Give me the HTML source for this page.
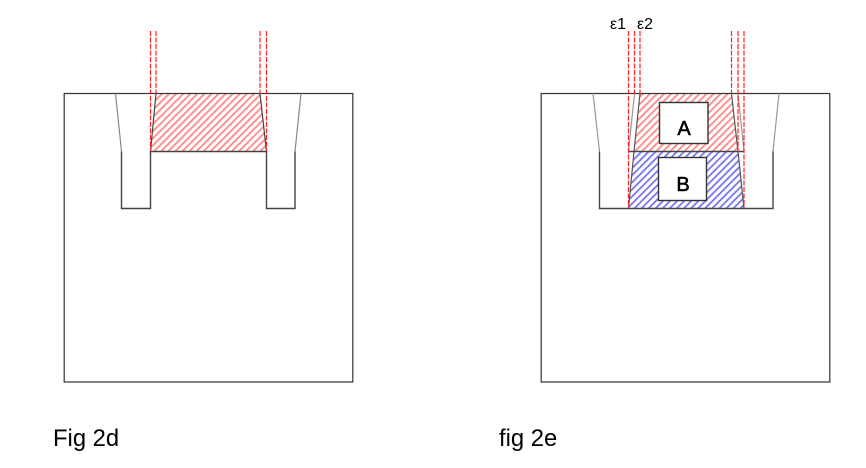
<!DOCTYPE html>
<html><head><meta charset="utf-8"><style>html,body{margin:0;padding:0;background:#fff}svg{display:block}</style></head>
<body>
<svg width="866" height="468" viewBox="0 0 866 468" xmlns="http://www.w3.org/2000/svg">
<defs>
<pattern id="r" width="5" height="5" patternUnits="userSpaceOnUse" patternTransform="rotate(45)"><rect width="5" height="5" fill="#fff"/><rect width="1.8" height="5" fill="#f88"/></pattern>
<pattern id="b" width="5" height="5" patternUnits="userSpaceOnUse" patternTransform="rotate(45)"><rect width="5" height="5" fill="#fff"/><rect width="1.8" height="5" fill="#77e"/></pattern>
</defs>
<g fill="none" stroke="#333" stroke-width="1.2">
<polygon points="156,93.5 260,93.5 266.5,151.5 150.5,151.5" fill="url(#r)" stroke="none"/>
<rect x="64.2" y="93.5" width="288.6" height="288.5"/>
<path d="M121.5 151.5V208.5H150.5V151.5H266.5V208.5H295V151.5" stroke="#444" stroke-width="1.4"/>
<path d="M115.5 93.5L121.5 151.5M301 93.5L295 151.5" stroke="#888"/>
<path d="M156 93.5L150.5 151.5M260 93.5L266.5 151.5" stroke="#444"/>
<polygon points="640,93.5 731.5,93.5 738,151.5 634,151.5" fill="url(#r)" stroke="none"/>
<polygon points="634,151.5 738,151.5 744,208.5 628.5,208.5" fill="url(#b)" stroke="none"/>
<rect x="541.2" y="93.5" width="288.6" height="288.5"/>
<path d="M599.5 151.5V208.5H773V151.5M628.5 151.5H743.5" stroke="#444" stroke-width="1.4"/>
<path d="M593 93.5L599.5 151.5M779 93.5L773 151.5M634.5 93.5L628.5 151.5M738 93.5L744 151.5" stroke="#999"/>
<path d="M640 93.5L634 151.5L628.5 208.5M731.5 93.5L738 151.5L744 208.5" stroke="#555"/>
<rect x="659.5" y="102.5" width="48.5" height="41" fill="#fff" stroke-width="1.4"/>
<rect x="658.5" y="157.5" width="48" height="43" fill="#fff" stroke-width="1.4"/>
</g>
<g fill="none" stroke="#f22" stroke-width="1.2" stroke-dasharray="5 1.5">
<path d="M150.5 31V151M156 31V94M260 31V94M266.5 31V151"/>
<path d="M628.5 31V208M634.5 31V94M640 31V94M731.5 31V94M738 31V151M744 31V208"/>
</g>
<g font-family="'Liberation Sans',sans-serif" fill="#000">
<text x="610" y="29" font-size="16">ε1</text>
<text x="637" y="29" font-size="16">ε2</text>
<text x="684" y="135" font-size="20" text-anchor="middle" stroke="#000" stroke-width=".6">A</text>
<text x="683" y="191" font-size="20" text-anchor="middle" stroke="#000" stroke-width=".6">B</text>
<text x="53" y="446" font-size="23.8">Fig 2d</text>
<text x="499" y="446" font-size="23.8">fig 2e</text>
</g>
</svg>
</body></html>
